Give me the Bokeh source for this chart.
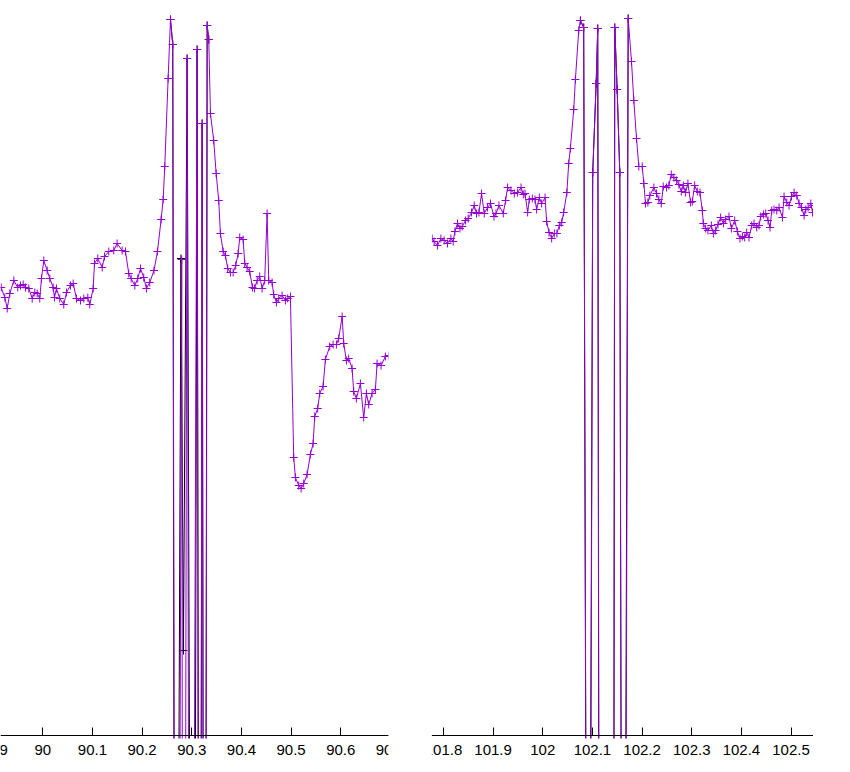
from bokeh.plotting import figure
from bokeh.models import Range1d, FixedTicker, BoxAnnotation, Label
from bokeh.embed import file_html
from bokeh.resources import INLINE

# ---------------- data (signal in arbitrary units, 0 = bottom of plot) -------------
left_x = [89.9162, 89.9235, 89.9283, 89.9335, 89.9416, 89.9496, 89.9551, 89.9605, 89.9651, 89.9718,
          89.9786, 89.9839, 89.9887, 89.9939, 89.9973, 90.0020, 90.0088, 90.0141, 90.0209, 90.0235,
          90.0275, 90.0342, 90.0422, 90.0477, 90.0557, 90.0612, 90.0678, 90.0759, 90.0825, 90.0906,
          90.0946, 90.1014, 90.1041, 90.1107, 90.1196, 90.1242, 90.1329, 90.1429, 90.1497, 90.1598,
          90.1665, 90.1731, 90.1779, 90.1852, 90.1912, 90.1967, 90.2033, 90.2087, 90.2154, 90.2239,
          90.2309, 90.2383, 90.2424, 90.2456, 90.2524, 90.2571, 90.2617, 90.2691, 90.2798, 90.2832,
          90.2907, 90.2973, 90.3108, 90.3155, 90.3209, 90.3265, 90.3310, 90.3342, 90.3376, 90.3442,
          90.3491, 90.3543, 90.3577, 90.3632, 90.3678, 90.3724, 90.3779, 90.3833, 90.3885, 90.3934,
          90.3966, 90.4035, 90.4067, 90.4115, 90.4167, 90.4222, 90.4262, 90.4316, 90.4368, 90.4417,
          90.4469, 90.4517, 90.4550, 90.4618, 90.4650, 90.4705, 90.4751, 90.4819, 90.4886, 90.4932,
          90.4987, 90.5053, 90.5087, 90.5154, 90.5202, 90.5254, 90.5323, 90.5389, 90.5444, 90.5476,
          90.5536, 90.5577, 90.5645, 90.5691, 90.5778, 90.5846, 90.5913, 90.5959, 90.6028, 90.6060,
          90.6114, 90.6160, 90.6229, 90.6261, 90.6315, 90.6396, 90.6462, 90.6517, 90.6563, 90.6631,
          90.6698, 90.6732, 90.6812, 90.6899, 90.6966]
left_y = [448, 438, 427, 442, 455, 448, 450, 451, 448, 447,
          437, 443, 442, 437, 457, 475, 465, 457, 448, 438,
          447, 437, 431, 443, 450, 452, 437, 435, 437, 438,
          431, 447, 472, 477, 468, 479, 484, 485, 492, 485,
          484, 462, 457, 450, 457, 467, 458, 447, 453, 465,
          484, 516, 536, 569, 657, 716, 691, -1065, 476, -1065,
          677, -1065, 686, -1065, 612, -1065, 710, 696, 622, 595,
          562, 535, 502, 484, 480, 467, 463, 463, 470, 482,
          498, 496, 472, 468, 464, 448, 447, 455, 459, 447,
          455, 522, 455, 453, 441, 433, 437, 440, 435, 437,
          439, 278, 258, 250, 247, 252, 261, 281, 292, 319,
          327, 342, 349, 376, 389, 391, 391, 397, 419, 392,
          375, 377, 367, 344, 337, 352, 318, 342, 331, 342,
          346, 372, 370, 379, 380]

# black trace: coincides with the purple one except inside the burst
left_black_x = [90.2571, 90.2617, 90.2670, 90.2782, 90.2832, 90.2907, 90.3024, 90.3108, 90.3165,
                90.3209, 90.3255, 90.3310, 90.3342]
left_black_y = [716, 691, -900, 477, 85, 677, -1065, 686, -1000, 612, -1000, 710, 696]

right_x = [101.7772, 101.7812, 101.7879, 101.7948, 101.8014, 101.8081, 101.8149, 101.8196, 101.8230, 101.8282,
           101.8331, 101.8377, 101.8444, 101.8498, 101.8565, 101.8619, 101.8666, 101.8714, 101.8767, 101.8821,
           101.8888, 101.8948, 101.9017, 101.9057, 101.9118, 101.9204, 101.9251, 101.9291, 101.9360, 101.9426,
           101.9493, 101.9562, 101.9608, 101.9642, 101.9695, 101.9729, 101.9789, 101.9844, 101.9876, 101.9931,
           101.9977, 102.0046, 102.0078, 102.0126, 102.0179, 102.0233, 102.0284, 102.0334, 102.0380, 102.0421,
           102.0485, 102.0522, 102.0556, 102.0623, 102.0657, 102.0724, 102.0758, 102.0824, 102.0919, 102.1006,
           102.1075, 102.1107, 102.1161, 102.1404, 102.1450, 102.1498, 102.1551, 102.1625, 102.1720, 102.1787,
           102.1833, 102.1888, 102.1934, 102.2003, 102.2035, 102.2069, 102.2116, 102.2156, 102.2237, 102.2291,
           102.2337, 102.2386, 102.2426, 102.2493, 102.2539, 102.2588, 102.2640, 102.2695, 102.2741, 102.2789,
           102.2830, 102.2876, 102.2923, 102.2977, 102.3011, 102.3058, 102.3112, 102.3165, 102.3213, 102.3233,
           102.3280, 102.3326, 102.3395, 102.3435, 102.3481, 102.3528, 102.3582, 102.3637, 102.3683, 102.3750,
           102.3798, 102.3865, 102.3919, 102.3972, 102.4020, 102.4066, 102.4107, 102.4153, 102.4208, 102.4254,
           102.4308, 102.4355, 102.4389, 102.4444, 102.4490, 102.4537, 102.4577, 102.4611, 102.4657, 102.4712,
           102.4758, 102.4827, 102.4859, 102.4914, 102.4960, 102.5009, 102.5061, 102.5115, 102.5162, 102.5210,
           102.5263, 102.5297, 102.5344, 102.5398, 102.5432, 102.5486]
right_y = [497, 494, 490, 497, 495, 492, 497, 494, 504, 512,
           507, 509, 515, 517, 523, 530, 522, 523, 542, 522,
           528, 532, 519, 522, 530, 522, 535, 548, 545, 542,
           543, 548, 541, 542, 523, 536, 537, 536, 526, 538,
           532, 538, 514, 503, 497, 502, 502, 510, 513, 523,
           543, 572, 587, 626, 656, 705, 715, 708, -865, 563,
           652, 707, -1065, -1065, 708, 646, 563, -1065, 717, 674,
           635, 597, 569, 569, 552, 532, 533, 540, 548, 542,
           536, 532, 549, 548, 550, 561, 558, 555, 551, 544,
           550, 543, 552, 533, 534, 550, 544, 543, 525, 512,
           507, 505, 510, 502, 505, 511, 518, 512, 516, 519,
           507, 515, 504, 497, 499, 498, 503, 498, 510, 512,
           508, 510, 519, 521, 522, 515, 508, 525, 526, 525,
           528, 518, 539, 533, 530, 539, 543, 540, 532, 528,
           520, 526, 528, 532, 523, 530]

right_black_x = [102.0758, 102.0824, 102.0909, 102.1006, 102.1075, 102.1107, 102.1151, 102.1414,
                 102.1450, 102.1498, 102.1551, 102.1615, 102.1720]
right_black_y = [715, 708, -800, 563, 652, 707, -1000, -1000, 708, 646, 563, -900, 717]

left_ticks = [90.0, 90.1, 90.2, 90.3, 90.4, 90.5, 90.6, 90.7]
left_tick_labels = ["90", "90.1", "90.2", "90.3", "90.4", "90.5", "90.6", "90.7"]
left_outside_tick, left_outside_label = 89.9, "89.9"   # lies just left of the window
right_ticks = [101.8, 101.9, 102.0, 102.1, 102.2, 102.3, 102.4, 102.5]
right_tick_labels = ["101.8", "101.9", "102", "102.1", "102.2", "102.3", "102.4", "102.5"]

# panel windows (the two cut-out regions of the x axis)
left_window = (89.9148, 90.6960)
right_window = (101.7766, 102.5452)
GAP = 0.0875            # blank gap between the two panels, in left-panel x units

PURPLE = "#9400D3"
BLACK = "#000000"
FONT = "Liberation Sans"
FSIZE = "15px"
W, H = 813, 764
AXIS_PX = 735           # pixel row of the x axis, counted from the top
BELOW = H - AXIS_PX     # room for tick labels under the axis
CLIP = 3                # traces are cut a few pixels below the axis line
STANDOFF = 9

# broken axis: right panel placed just after the left one, separated by GAP
shift = left_window[1] + GAP - right_window[0]
x_start = left_window[0]
x_end = right_window[1] + shift

p = figure(width=W, height=H, output_backend="svg", toolbar_location=None,
           x_range=Range1d(x_start, x_end), y_range=Range1d(-BELOW, AXIS_PX),
           min_border_left=0, min_border_right=0, min_border_top=0, min_border_bottom=0,
           x_axis_location="below", y_axis_location=None)
p.outline_line_color = None
p.grid.visible = False
p.background_fill_color = "white"
p.border_fill_color = "white"

ticks = left_ticks + [t + shift for t in right_ticks]
labels = left_tick_labels + right_tick_labels
ax = p.xaxis[0]
ax.fixed_location = 0
ax.ticker = FixedTicker(ticks=ticks, minor_ticks=[])
ax.major_label_overrides = {t: l for t, l in zip(ticks, labels)}
ax.axis_line_color = BLACK
ax.axis_line_width = 1
ax.major_tick_line_color = BLACK
ax.major_tick_in = 8
ax.major_tick_out = 0
ax.minor_tick_line_color = None
ax.major_label_standoff = STANDOFF
ax.major_label_text_font = FONT
ax.major_label_text_font_size = FSIZE
ax.major_label_text_color = BLACK

rx = [x + shift for x in right_x]
rbx = [x + shift for x in right_black_x]

for xs, ys, bx, by in [(left_x, left_y, left_black_x, left_black_y),
                       (rx, right_y, rbx, right_black_y)]:
    p.line(bx, by, line_color=BLACK, line_width=1)
    p.scatter(bx, by, marker="cross", size=8, line_color=BLACK, line_width=1)
    p.line(xs, ys, line_color=PURPLE, line_width=1)
    p.scatter(xs, ys, marker="cross", size=8, line_color=PURPLE, line_width=1)

# white band under the axis: the traces are cut just below the axis line
# (glyph level, so the axis and its labels are still drawn over it)
p.quad(left=[x_start], right=[x_end], bottom=[-BELOW], top=[-CLIP],
       fill_color="white", line_color=None)

# tick label of the tick that lies just outside the left edge (only its end shows)
p.add_layout(Label(x=left_outside_tick, y=-STANDOFF, x_units="data", y_units="data",
                   text=left_outside_label, text_align="center", text_baseline="top",
                   text_font=FONT, text_font_size=FSIZE, text_color=BLACK))

# white gap between the two panels (hides axis line and clips the neighbouring labels)
p.add_layout(BoxAnnotation(left=left_window[1], right=left_window[1] + GAP,
                           fill_color="white", fill_alpha=1.0, line_color=None,
                           level="overlay"))

open("out.html", "w").write(file_html(p, INLINE))
